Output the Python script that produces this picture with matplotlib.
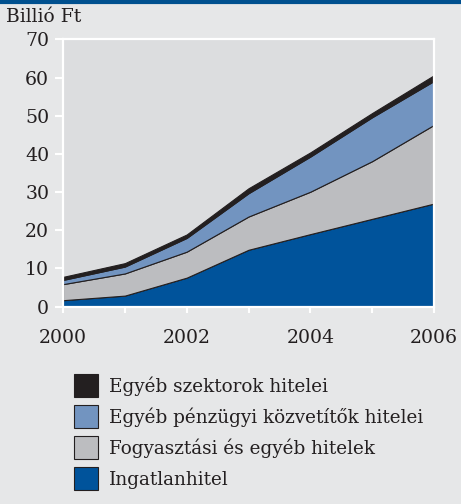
import matplotlib.pyplot as plt
import numpy as np

plt.rcParams['font.family'] = ['DejaVu Serif']

years = [2000, 2001, 2002, 2003, 2004, 2005, 2006]
ingatlan = [1.7, 2.9, 7.6, 14.9, 19.0, 23.0, 27.0]
fogyasztasi = [4.2, 5.8, 6.8, 8.7, 11.1, 15.1, 20.6]
penzugyi = [1.1, 1.8, 3.6, 6.1, 9.2, 11.5, 11.5]
szektorok = [0.8, 0.9, 0.9, 1.3, 1.1, 1.1, 1.5]

labels = ['Ingatlanhitel', 'Fogyasztási és egyéb hitelek',
          'Egyéb pénzügyi közvetítők hitelei', 'Egyéb szektorok hitelei']
colors = ['#00539b', '#bcbdc0', '#7294c0', '#231f20']
xtick_labels = ['2000', '', '2002', '', '2004', '', '2006']
yticks = [0, 10, 20, 30, 40, 50, 60, 70]

fig = plt.figure(figsize=(4.61, 5.04), dpi=100, facecolor='#e6e7e8')
ax = fig.add_axes([0.1367, 0.3915, 0.8047, 0.5305])
ax.set_facecolor('#dcdddf')

polys = ax.stackplot(years, ingatlan, fogyasztasi, penzugyi, szektorok,
                     colors=colors, edgecolor='#231f20', linewidth=0.8)

ax.set_xlim(2000, 2006)
ax.set_ylim(0, 70)
ax.set_xticks(years)
ax.set_xticklabels(xtick_labels)
ax.set_yticks(yticks)
for s in ax.spines.values():
    s.set_color('white')
    s.set_linewidth(1.6)
ax.tick_params(axis='x', colors='white', length=4, width=1.5, labelcolor='#231f20',
               labelsize=13.6, pad=12)
ax.tick_params(axis='y', colors='white', length=6, width=1.5, labelcolor='#231f20',
               labelsize=13.6, pad=4)

fig.text(0.013, 0.984, 'Billió Ft', fontsize=13.5, color='#231f20', va='top', ha='left')

# blue rule at the top
fig.add_artist(plt.Line2D([0, 1], [0.997, 0.997], color='#00508f', linewidth=3,
                          transform=fig.transFigure))

handles = polys[::-1]
leg = fig.legend(handles, labels[::-1], loc='upper left',
                 bbox_to_anchor=(0.16, 0.258), frameon=False, fontsize=13.2,
                 handlelength=1.31, handleheight=1.555, labelspacing=0.44,
                 handletextpad=0.6, borderpad=0, borderaxespad=0)
for t in leg.get_texts():
    t.set_color('#231f20')

fig.savefig('out.png', dpi=100, facecolor=fig.get_facecolor())
